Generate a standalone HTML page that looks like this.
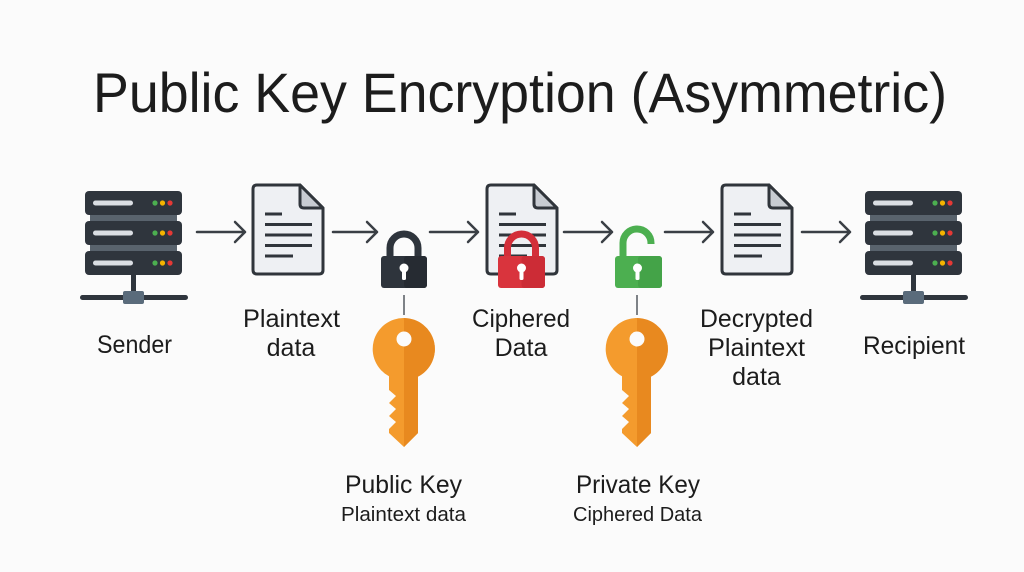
<!DOCTYPE html>
<html>
<head>
<meta charset="utf-8">
<style>
  html, body { margin: 0; padding: 0; background: #fbfbfb; }
  svg { display: block; }
  text { font-family: "Liberation Sans", Arial, sans-serif; fill: #1c1c1c; }
</style>
</head>
<body>
<svg width="1024" height="572" viewBox="0 0 1024 572" xmlns="http://www.w3.org/2000/svg">
  <defs>
    <clipPath id="rightHalf"><rect x="0" y="0" width="200" height="600"/></clipPath>
    <g id="server">
      <!-- bands -->
      <rect x="90" y="212" width="87" height="12" fill="#59636d"/>
      <rect x="90" y="242" width="87" height="12" fill="#59636d"/>
      <!-- rows -->
      <rect x="85" y="191" width="97" height="24" rx="4" fill="#2f353d"/>
      <rect x="85" y="221" width="97" height="24" rx="4" fill="#2f353d"/>
      <rect x="85" y="251" width="97" height="24" rx="4" fill="#2f353d"/>
      <!-- pills -->
      <rect x="93" y="200.5" width="40" height="5" rx="2.5" fill="#dadee3"/>
      <rect x="93" y="230.5" width="40" height="5" rx="2.5" fill="#dadee3"/>
      <rect x="93" y="260.5" width="40" height="5" rx="2.5" fill="#dadee3"/>
      <!-- dots -->
      <circle cx="155" cy="203" r="2.6" fill="#4caf50"/>
      <circle cx="162.5" cy="203" r="2.6" fill="#f5b300"/>
      <circle cx="170" cy="203" r="2.6" fill="#e53935"/>
      <circle cx="155" cy="233" r="2.6" fill="#4caf50"/>
      <circle cx="162.5" cy="233" r="2.6" fill="#f5b300"/>
      <circle cx="170" cy="233" r="2.6" fill="#e53935"/>
      <circle cx="155" cy="263" r="2.6" fill="#4caf50"/>
      <circle cx="162.5" cy="263" r="2.6" fill="#f5b300"/>
      <circle cx="170" cy="263" r="2.6" fill="#e53935"/>
      <!-- stem + base -->
      <rect x="131" y="275" width="5" height="20" fill="#2f353d"/>
      <rect x="80" y="295" width="108" height="5" rx="2.5" fill="#2f353d"/>
      <rect x="123" y="291" width="21" height="13" rx="2" fill="#5a6b7b"/>
    </g>
    <g id="doc">
      <path d="M4 0 H47 L70 23 V85 Q70 89 66 89 H4 Q0 89 0 85 V4 Q0 0 4 0 Z" fill="#eef0f3" stroke="#30353b" stroke-width="3" stroke-linejoin="round"/>
      <path d="M47 0 V19 Q47 23 51 23 H70 Z" fill="#c8ccd2" stroke="#30353b" stroke-width="3" stroke-linejoin="round"/>
      <g stroke="#30353b" stroke-width="3">
        <line x1="12" y1="29" x2="29" y2="29"/>
        <line x1="12" y1="39.5" x2="59" y2="39.5"/>
        <line x1="12" y1="50" x2="59" y2="50"/>
        <line x1="12" y1="60.5" x2="59" y2="60.5"/>
        <line x1="12" y1="71" x2="40" y2="71"/>
      </g>
    </g>
    <path id="keyShape" d="M0 318 A31 31 0 0 1 14 376.6 V433 L0 447 L-15 433 V429 L-8 422 L-15 416 L-8 409 L-15 403 L-8 396 L-15 390 V376.3 A31 31 0 0 1 0 318 Z"/>
    <g id="key">
      <use href="#keyShape" fill="#f49b2d"/>
      <g clip-path="url(#rightHalf)"><use href="#keyShape" fill="#e8891f"/></g>
      <circle cx="0" cy="339" r="7.5" fill="#fbfbfb"/>
    </g>
    <g id="keyhole">
      <circle cx="0" cy="268" r="4.5" fill="#ffffff"/>
      <rect x="-2" y="268" width="4" height="12" rx="1.5" fill="#ffffff"/>
    </g>
  </defs>

  <!-- Title -->
  <text x="93" y="112" font-size="56" textLength="854" lengthAdjust="spacingAndGlyphs">Public Key Encryption (Asymmetric)</text>

  <!-- Servers -->
  <use href="#server"/>
  <use href="#server" transform="translate(780,0)"/>

  <!-- Documents -->
  <use href="#doc" transform="translate(253,185)"/>
  <use href="#doc" transform="translate(487,185)"/>
  <use href="#doc" transform="translate(722,185)"/>

  <!-- Arrows -->
  <g stroke="#3a3f45" stroke-width="2.5" fill="none" stroke-linecap="round" stroke-linejoin="round">
    <path d="M197 232 H245 M235 222 L245 232 L235 242"/>
    <path d="M333 232 H377 M367 222 L377 232 L367 242"/>
    <path d="M430 232 H478 M468 222 L478 232 L468 242"/>
    <path d="M564 232 H612 M602 222 L612 232 L602 242"/>
    <path d="M665 232 H713 M703 222 L713 232 L703 242"/>
    <path d="M802 232 H850 M840 222 L850 232 L840 242"/>
  </g>

  <!-- Dark lock -->
  <path d="M390 257 V248 A14 14 0 0 1 418 248 V257" fill="none" stroke="#2e343c" stroke-width="7"/>
  <rect x="381" y="256" width="46" height="32" rx="3" fill="#2e343c"/>
  <rect x="404" y="256" width="23" height="32" rx="3" fill="#262b32"/>
  <use href="#keyhole" transform="translate(404,0)"/>

  <!-- Red lock -->
  <path d="M507.5 257 V248 A14 14 0 0 1 535.5 248 V257" fill="none" stroke="#d32f3a" stroke-width="7"/>
  <rect x="498" y="256" width="47" height="32" rx="3" fill="#d9343d"/>
  <rect x="521.5" y="256" width="23.5" height="32" rx="3" fill="#cc2c36"/>
  <use href="#keyhole" transform="translate(521.5,0)"/>

  <!-- Green open lock -->
  <path d="M623 258 V243 A14 14 0 0 1 651 243 V244" fill="none" stroke="#4caf50" stroke-width="7"/>
  <rect x="615" y="256" width="47" height="32" rx="3" fill="#4caf50"/>
  <rect x="638" y="256" width="24" height="32" rx="3" fill="#44a348"/>
  <use href="#keyhole" transform="translate(637.5,0)"/>

  <!-- Vertical connectors -->
  <g stroke="#555a60" stroke-width="1.5">
    <line x1="404" y1="295" x2="404" y2="315"/>
    <line x1="637" y1="295" x2="637" y2="315"/>
  </g>

  <!-- Keys -->
  <use href="#key" transform="translate(404,0)"/>
  <use href="#key" transform="translate(637,0)"/>

  <!-- Labels -->
  <g font-size="25" text-anchor="middle">
    <text x="134.5" y="353" textLength="75" lengthAdjust="spacingAndGlyphs">Sender</text>
    <text x="291.5" y="327" textLength="97" lengthAdjust="spacingAndGlyphs">Plaintext</text>
    <text x="291" y="356">data</text>
    <text x="521" y="327" textLength="98" lengthAdjust="spacingAndGlyphs">Ciphered</text>
    <text x="521" y="356">Data</text>
    <text x="756.5" y="327" textLength="113" lengthAdjust="spacingAndGlyphs">Decrypted</text>
    <text x="756.5" y="356" textLength="97" lengthAdjust="spacingAndGlyphs">Plaintext</text>
    <text x="756.5" y="385">data</text>
    <text x="914" y="354" textLength="102" lengthAdjust="spacingAndGlyphs">Recipient</text>
    <text x="403.5" y="493" textLength="117" lengthAdjust="spacingAndGlyphs">Public Key</text>
    <text x="638" y="493" textLength="124" lengthAdjust="spacingAndGlyphs">Private Key</text>
  </g>
  <g font-size="20" text-anchor="middle">
    <text x="403.5" y="521" textLength="125" lengthAdjust="spacingAndGlyphs">Plaintext data</text>
    <text x="637.5" y="521" textLength="129" lengthAdjust="spacingAndGlyphs">Ciphered Data</text>
  </g>
</svg>
</body>
</html>
